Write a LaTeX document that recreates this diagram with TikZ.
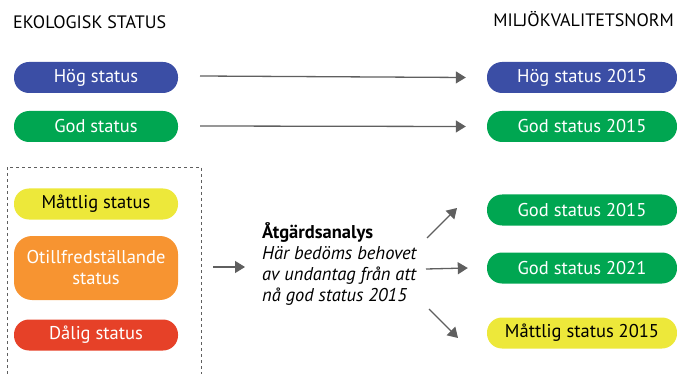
\documentclass[tikz,border=0pt]{standalone}
\usepackage{fontspec}
\setmainfont{PT Sans}
\usetikzlibrary{arrows.meta}
\definecolor{hogblue}{RGB}{59,78,165}
\definecolor{godgreen}{RGB}{0,166,81}
\definecolor{mattyellow}{RGB}{237,232,58}
\definecolor{otillorange}{RGB}{247,148,49}
\definecolor{daligred}{RGB}{230,65,40}
\definecolor{arrowgray}{RGB}{95,95,95}
\begin{document}
\begin{tikzpicture}[x=1pt,y=-1pt,font=\fontsize{18.5}{21}\selectfont]
  \tikzstyle{pill}=[rectangle,rounded corners=15pt,minimum height=31pt,inner sep=0pt,text=white]
  \tikzstyle{leftpill}=[pill,minimum width=164pt]
  \tikzstyle{rightpill}=[pill,minimum width=190pt]
  \tikzstyle{heading}=[anchor=west,inner sep=0pt,font=\fontsize{18}{20}\selectfont]
  \tikzstyle{line}=[draw=arrowgray,line width=1.3pt,-{Triangle[length=10pt,width=12pt]}]
  \useasboundingbox (0,0) rectangle (677,374);
  % headings
  \node[heading] (ekotitle) at (13,22) {EKOLOGISK STATUS};
  \node[heading,anchor=east] (mkntitle) at (674,19) {MILJÖKVALITETSNORM};
  % left column
  \node[leftpill,fill=hogblue] (hog) at (96,77.5) {Hög status};
  \node[leftpill,fill=godgreen] (god) at (96,126.5) {God status};
  \draw[arrowgray,dashed,line width=0.6pt] (7,374) -- (7,167) -- (201,167) -- (201,374);
  \node[leftpill,fill=mattyellow,text=black] (mattlig) at (96,204) {Måttlig status};
  \node[leftpill,fill=otillorange,minimum height=64pt,rounded corners=18pt,align=center] (otill) at (96,268) {Otillfredställande\\status};
  \node[leftpill,fill=daligred] (dalig) at (96,335) {Dålig status};
  % right column
  \node[rightpill,fill=hogblue] (hog15) at (582,77.5) {Hög status 2015};
  \node[rightpill,fill=godgreen] (god15) at (582,126.5) {God status 2015};
  \node[rightpill,fill=godgreen] (godB15) at (582,210) {God status 2015};
  \node[rightpill,fill=godgreen] (god21) at (582,268) {God status 2021};
  \node[rightpill,fill=mattyellow,text=black] (mattlig15) at (582,333) {Måttlig status 2015};
  % analysis
  \node[anchor=north west,inner sep=0pt,align=left,font=\fontsize{18.5}{21}\selectfont] (analys) at (262,222)
    {\textbf{Åtgärdsanalys}\\ \textit{Här bedöms behovet}\\ \textit{av undantag från att}\\ \textit{nå god status 2015}};
  % arrows
  \coordinate (a1) at (200,76);
  \coordinate (a2) at (200,126);
  \coordinate (a3) at (213,267);
  \coordinate (b1) at (427,238);
  \coordinate (b2) at (426,269);
  \coordinate (b3) at (429,309);
  \draw[line] (a1) -- ([xshift=-21pt]hog15.west);
  \draw[line] (a2) -- ([xshift=-21pt]god15.west);
  \draw[line] (a3) -- (245,267);
  \draw[line] (b1) -- (457,208);
  \draw[line] (b2) -- ([xshift=-19pt]god21.west);
  \draw[line] (b3) -- (458,338);
\end{tikzpicture}
\end{document}
